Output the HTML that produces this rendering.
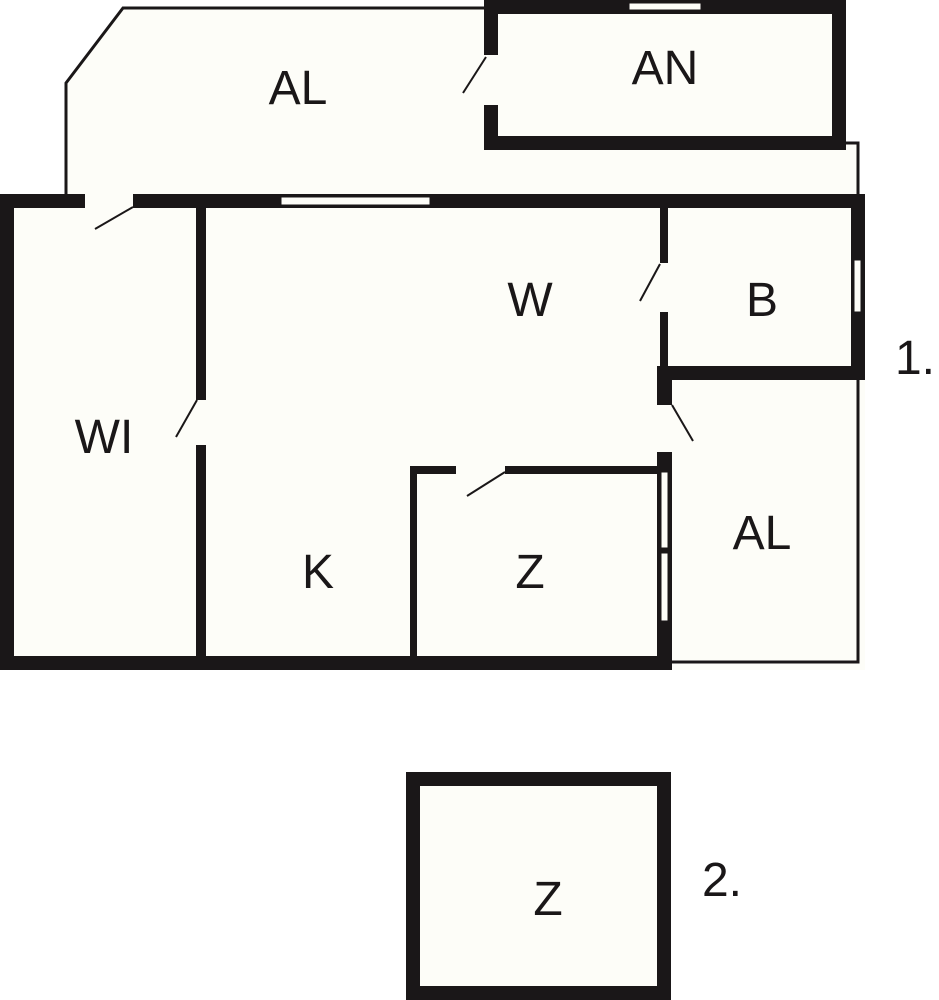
<!DOCTYPE html>
<html><head><style>
html,body{margin:0;padding:0;background:#fff;}
svg{display:block;}
text{font-family:"Liberation Sans",sans-serif;font-size:48px;fill:#1a1718;text-anchor:middle;}
</style></head><body>
<svg width="939" height="1000" viewBox="0 0 939 1000" xmlns="http://www.w3.org/2000/svg">
<g fill="#fdfdf8">
<polygon points="123,8 485,8 485,143 858,143 858,200 66,200 66,83"/>
<rect x="0" y="194" width="865" height="476"/>
<rect x="665" y="370" width="193" height="292"/>
<rect x="406" y="772" width="265" height="228"/>
<rect x="484" y="0" width="362" height="150"/>
</g>
<g fill="none" stroke="#1a1718" stroke-width="3">
<polyline points="485,8 123,8 66,83 66,195"/>
<polyline points="846,143 858,143 858,195"/>
<polyline points="858,380 858,662 670,662"/>
</g>
<g fill="#1a1718">
<rect x="484" y="0" width="362" height="14"/>
<rect x="832" y="0" width="14" height="150"/>
<rect x="484" y="136" width="362" height="14"/>
<rect x="484" y="0" width="14" height="55"/>
<rect x="484" y="105" width="14" height="45"/>
<rect x="0" y="194" width="85" height="14"/>
<rect x="133" y="194" width="732" height="14"/>
<rect x="0" y="194" width="14" height="476"/>
<rect x="0" y="656" width="672" height="14"/>
<rect x="851" y="194" width="14" height="186"/>
<rect x="196" y="208" width="10" height="192"/>
<rect x="196" y="445" width="10" height="215"/>
<rect x="660" y="208" width="8" height="55"/>
<rect x="660" y="312" width="8" height="58"/>
<rect x="657" y="366" width="208" height="14"/>
<rect x="657" y="366" width="15" height="39"/>
<rect x="657" y="452" width="15" height="18"/>
<rect x="657" y="622" width="15" height="40"/>
<rect x="657" y="470" width="15" height="152"/>
<rect x="410" y="466" width="7" height="194"/>
<rect x="410" y="466" width="46" height="8"/>
<rect x="505" y="466" width="155" height="8"/>
<rect x="406" y="772" width="265" height="14"/>
<rect x="406" y="986" width="265" height="14"/>
<rect x="406" y="772" width="14" height="228"/>
<rect x="657" y="772" width="14" height="228"/>
</g>
<g fill="#fdfdf8" stroke="#1a1718" stroke-width="1">
<rect x="629" y="3" width="72" height="7"/>
<rect x="281" y="197" width="149" height="8"/>
<rect x="854" y="260" width="7" height="52"/>
<rect x="661" y="472" width="7" height="76"/>
<rect x="661" y="553" width="7" height="68"/>
</g>
<g stroke="#1a1718" stroke-width="2">
<line x1="486" y1="57" x2="463" y2="93"/>
<line x1="133" y1="207" x2="95" y2="229"/>
<line x1="197" y1="400" x2="176" y2="437"/>
<line x1="660" y1="264" x2="640" y2="301"/>
<line x1="672" y1="405" x2="693" y2="441"/>
<line x1="505" y1="472" x2="467" y2="496"/>
</g>
<text x="298" y="104">AL</text>
<text x="665" y="84">AN</text>
<text x="530" y="316">W</text>
<text x="762" y="316">B</text>
<text x="915" y="374">1.</text>
<text x="104" y="453">WI</text>
<text x="318" y="588">K</text>
<text x="530" y="588">Z</text>
<text x="762" y="549">AL</text>
<text x="548" y="915">Z</text>
<text x="722" y="896">2.</text>
</svg>
</body></html>
